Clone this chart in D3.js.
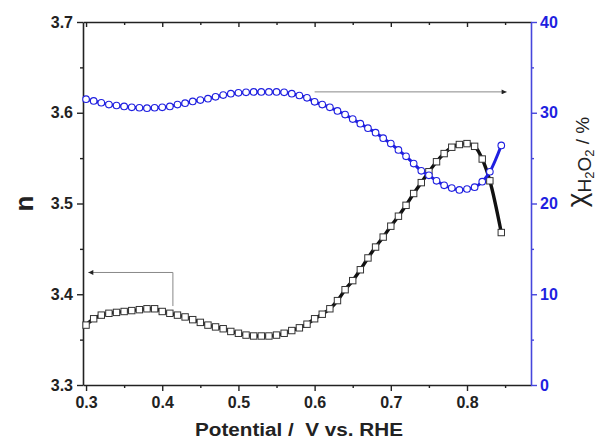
<!DOCTYPE html>
<html>
<head>
<meta charset="utf-8">
<script src="https://cdn.jsdelivr.net/npm/d3@7"></script>
<style>
  html, body { margin: 0; padding: 0; background: #fff; }
  svg text { font-family: Arial, "Liberation Sans", sans-serif; white-space: pre; }
</style>
</head>
<body>
<div id="chart"></div>
<script>
// electron transfer number n and H2O2 yield vs. potential

const potentials = [
  0.30, 0.31, 0.32, 0.33, 0.34, 0.35, 0.36, 0.37, 0.38, 0.39,
  0.40, 0.41, 0.42, 0.43, 0.44, 0.45, 0.46, 0.47, 0.48, 0.49,
  0.50, 0.51, 0.52, 0.53, 0.54, 0.55, 0.56, 0.57, 0.58, 0.59,
  0.60, 0.61, 0.62, 0.63, 0.64, 0.65, 0.66, 0.67, 0.68, 0.69,
  0.70, 0.71, 0.72, 0.73, 0.74, 0.75, 0.76, 0.77, 0.78, 0.79,
  0.80, 0.81, 0.82, 0.83, 0.845
];

const nValues = [
  3.366, 3.373, 3.377, 3.379, 3.380, 3.381, 3.382, 3.383, 3.384, 3.384,
  3.381, 3.379, 3.377, 3.375, 3.372, 3.369, 3.366, 3.364, 3.362, 3.359,
  3.357, 3.355, 3.354, 3.354, 3.354, 3.355, 3.357, 3.360, 3.363, 3.367,
  3.373, 3.378, 3.384, 3.393, 3.405, 3.415, 3.427, 3.440, 3.452, 3.463,
  3.475, 3.486, 3.498, 3.511, 3.523, 3.535, 3.546, 3.555, 3.562, 3.565,
  3.566, 3.563, 3.549, 3.525, 3.468
];

const h2o2Values = [
  31.5, 31.3, 31.1, 30.9, 30.8, 30.7, 30.6, 30.55, 30.5, 30.55,
  30.6, 30.7, 30.9, 31.05, 31.25, 31.4, 31.55, 31.75, 31.95, 32.1,
  32.2, 32.25, 32.3, 32.3, 32.3, 32.3, 32.25, 32.1, 31.9, 31.65,
  31.2, 30.9, 30.6, 30.2, 29.8, 29.3, 28.8, 28.3, 27.8, 27.2,
  26.6, 25.9, 25.2, 24.4, 23.6, 23.1, 22.5, 22.0, 21.7, 21.5,
  21.6, 21.8, 22.4, 23.5, 26.4
];

const xTicks = [0.3, 0.4, 0.5, 0.6, 0.7, 0.8];
const xMinorTicks = [0.35, 0.45, 0.55, 0.65, 0.75, 0.85];
const nTicks = [3.3, 3.4, 3.5, 3.6, 3.7];
const nMinorTicks = [3.35, 3.45, 3.55, 3.65];
const h2o2Ticks = [0, 10, 20, 30, 40];
const h2o2MinorTicks = [5, 15, 25, 35];

// guide arrows, in data units
const arrowRight = { x0: 0.600, x1: 0.852, y: 32.3 };          // right axis
const arrowLeft = { x: 0.414, yLow: 3.387, yHigh: 3.424, xTip: 0.303 }; // left axis

const BLUE = "#1f1fe0";
const AXIS_BLUE = "#4646dc";

const width = 599, height = 440;
const margin = { top: 22, right: 68, bottom: 55, left: 83 };

const svg = d3.select("#chart").append("svg")
  .attr("width", width)
  .attr("height", height);

const x = d3.scaleLinear().domain([0.296, 0.884]).range([margin.left, width - margin.right]);
const yN = d3.scaleLinear().domain([3.3, 3.7]).range([height - margin.bottom, margin.top]);
const yH = d3.scaleLinear().domain([0, 40]).range([height - margin.bottom, margin.top]);

const fmt1 = d3.format(".1f");

// arrowhead
svg.append("defs").append("marker")
  .attr("id", "head")
  .attr("viewBox", "0 0 10 10")
  .attr("refX", 10).attr("refY", 5)
  .attr("markerWidth", 8).attr("markerHeight", 5)
  .attr("markerUnits", "userSpaceOnUse")
  .attr("orient", "auto")
  .append("path")
  .attr("d", "M0,0 L10,5 L0,10 Z")
  .attr("fill", "#222");

// ---- axes ----
function styleAxis(g, color) {
  g.select(".domain").attr("stroke", color).attr("stroke-width", 1.6);
  g.selectAll(".tick line").attr("stroke", color).attr("stroke-width", 1.4);
  g.selectAll(".tick text")
    .attr("fill", color)
    .attr("font-size", "16px")
    .attr("font-weight", "bold");
}

function minorTicks(axis, translate, color) {
  svg.append("g")
    .attr("transform", translate)
    .call(axis.tickFormat("").tickSize(3).tickSizeOuter(0))
    .call(g => g.select(".domain").remove())
    .selectAll("line").attr("stroke", color).attr("stroke-width", 1.4);
}

// bottom
const xAxisG = svg.append("g")
  .attr("transform", `translate(0,${height - margin.bottom})`)
  .call(d3.axisBottom(x).tickValues(xTicks).tickFormat(fmt1).tickSize(6).tickSizeOuter(0).tickPadding(6));
styleAxis(xAxisG, "#222");
minorTicks(d3.axisBottom(x).tickValues(xMinorTicks), `translate(0,${height - margin.bottom})`, "#222");

// top (inward ticks)
const topG = svg.append("g")
  .attr("transform", `translate(0,${margin.top})`)
  .call(d3.axisBottom(x).tickValues(xTicks).tickFormat("").tickSize(5).tickSizeOuter(0));
styleAxis(topG, "#222");
minorTicks(d3.axisBottom(x).tickValues(xMinorTicks), `translate(0,${margin.top})`, "#222");

// left
const yNG = svg.append("g")
  .attr("transform", `translate(${margin.left},0)`)
  .call(d3.axisLeft(yN).tickValues(nTicks).tickFormat(fmt1).tickSize(6).tickSizeOuter(0).tickPadding(4));
styleAxis(yNG, "#222");
minorTicks(d3.axisLeft(yN).tickValues(nMinorTicks), `translate(${margin.left},0)`, "#222");

// right (blue)
const yHG = svg.append("g")
  .attr("transform", `translate(${width - margin.right},0)`)
  .call(d3.axisRight(yH).tickValues(h2o2Ticks).tickFormat(d3.format("d")).tickSize(6).tickSizeOuter(0).tickPadding(3));
styleAxis(yHG, AXIS_BLUE);
yHG.selectAll(".tick text").attr("fill", BLUE);
minorTicks(d3.axisRight(yH).tickValues(h2o2MinorTicks), `translate(${width - margin.right},0)`, AXIS_BLUE);

// ---- axis titles ----
svg.append("text")
  .attr("x", 299)
  .attr("y", 436)
  .attr("text-anchor", "middle")
  .attr("font-size", "18px")
  .attr("font-weight", "bold")
  .attr("fill", "#222")
  .attr("textLength", 208)
  .attr("lengthAdjust", "spacingAndGlyphs")
  .text("Potential /  V vs. RHE");

svg.append("text")
  .attr("transform", `translate(33,${(margin.top + height - margin.bottom) / 2}) rotate(-90)`)
  .attr("text-anchor", "middle")
  .attr("font-size", "26px")
  .attr("font-weight", "bold")
  .attr("fill", "#222")
  .text("n");

const rLabel = svg.append("text")
  .attr("transform", `translate(586,162) rotate(-90)`)
  .attr("text-anchor", "middle")
  .attr("fill", "#222");
rLabel.append("tspan").attr("font-size", "28px").text("χ");
rLabel.append("tspan").attr("font-size", "19px").attr("dy", 5).text("H");
rLabel.append("tspan").attr("font-size", "13px").attr("dy", 3).text("2");
rLabel.append("tspan").attr("font-size", "19px").attr("dy", -3).text("O");
rLabel.append("tspan").attr("font-size", "13px").attr("dy", 3).text("2");
rLabel.append("tspan").attr("font-size", "19px").attr("dy", -5).text(" / %");

// ---- guide arrows ----
svg.append("line")
  .attr("x1", x(arrowRight.x0)).attr("x2", x(arrowRight.x1))
  .attr("y1", yH(arrowRight.y)).attr("y2", yH(arrowRight.y))
  .attr("stroke", "#888").attr("stroke-width", 1)
  .attr("marker-end", "url(#head)");

svg.append("path")
  .attr("d", d3.line()([
    [x(arrowLeft.x), yN(arrowLeft.yLow)],
    [x(arrowLeft.x), yN(arrowLeft.yHigh)],
    [x(arrowLeft.xTip), yN(arrowLeft.yHigh)]
  ]))
  .attr("fill", "none")
  .attr("stroke", "#888").attr("stroke-width", 1)
  .attr("marker-end", "url(#head)");

// ---- series ----
const nData = potentials.map((p, i) => ({ p, v: nValues[i] }));
const hData = potentials.map((p, i) => ({ p, v: h2o2Values[i] }));

const nLine = d3.line().x(d => x(d.p)).y(d => yN(d.v)).curve(d3.curveMonotoneX);
const hLine = d3.line().x(d => x(d.p)).y(d => yH(d.v)).curve(d3.curveMonotoneX);

svg.append("path")
  .datum(nData)
  .attr("d", nLine)
  .attr("fill", "none")
  .attr("stroke", "#111")
  .attr("stroke-width", 3.4);

svg.selectAll(".sq")
  .data(nData)
  .join("rect")
  .attr("class", "sq")
  .attr("x", d => x(d.p) - 3.2)
  .attr("y", d => yN(d.v) - 3.2)
  .attr("width", 6.4)
  .attr("height", 6.4)
  .attr("fill", "#fff")
  .attr("stroke", "#333")
  .attr("stroke-width", 1);

svg.append("path")
  .datum(hData)
  .attr("d", hLine)
  .attr("fill", "none")
  .attr("stroke", BLUE)
  .attr("stroke-width", 3);

svg.selectAll(".ci")
  .data(hData)
  .join("circle")
  .attr("class", "ci")
  .attr("cx", d => x(d.p))
  .attr("cy", d => yH(d.v))
  .attr("r", 3.3)
  .attr("fill", "#fff")
  .attr("stroke", BLUE)
  .attr("stroke-width", 1.1);
</script>
</body>
</html>
